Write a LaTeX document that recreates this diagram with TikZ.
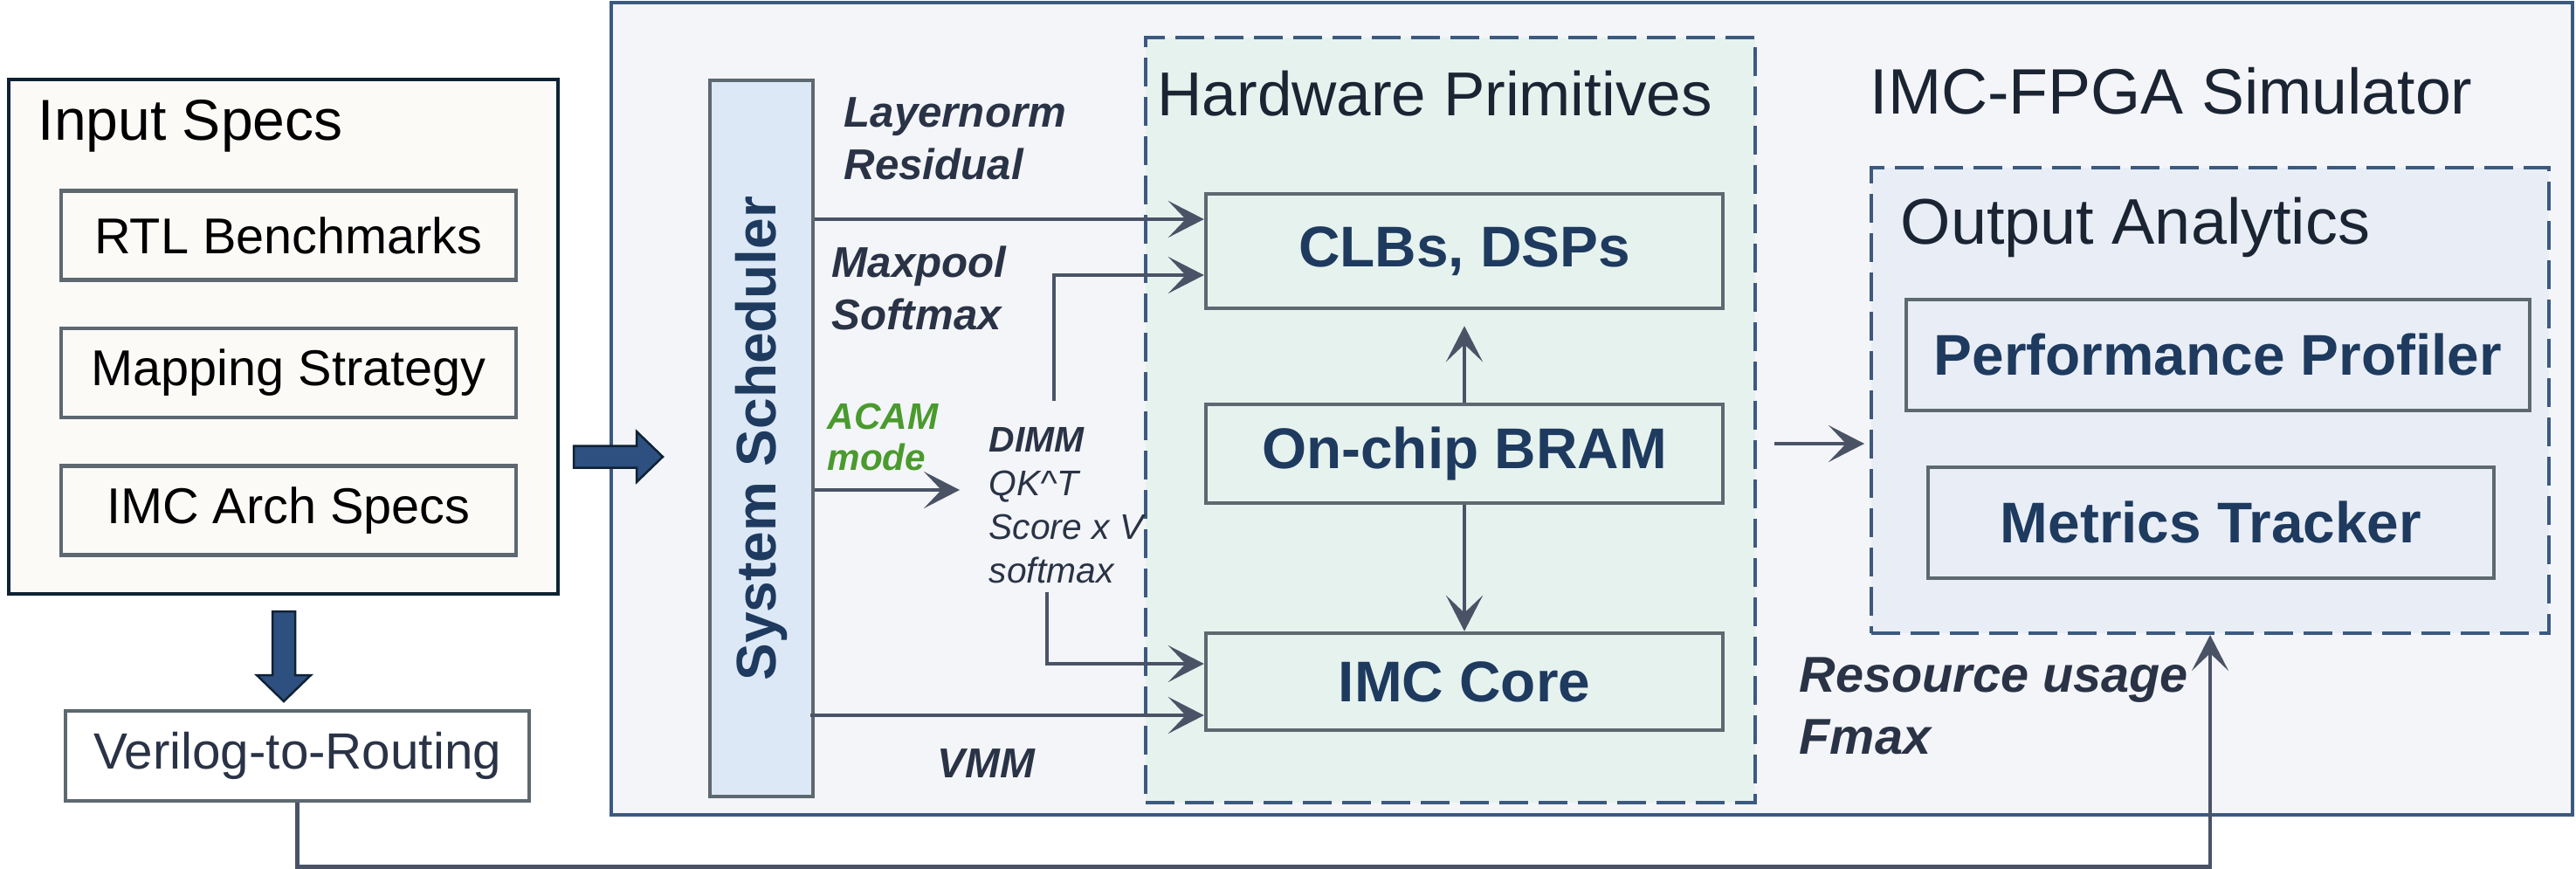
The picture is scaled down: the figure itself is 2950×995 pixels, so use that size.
\documentclass[tikz,border=0pt]{standalone}
\usepackage{fontspec}
\setmainfont{Liberation Sans}
\usetikzlibrary{arrows.meta, positioning, calc}
\definecolor{simfill}{HTML}{F3F5F8}
\definecolor{simborder}{HTML}{3C5A80}
\definecolor{primfill}{HTML}{E6F2EE}
\definecolor{outfill}{HTML}{E9EEF6}
\definecolor{schedfill}{HTML}{DCE8F5}
\definecolor{boxgray}{HTML}{5D6870}
\definecolor{labelblue}{HTML}{1E3A5F}
\definecolor{flowgray}{HTML}{4A5366}
\definecolor{annotdark}{HTML}{2A3346}
\definecolor{acamgreen}{HTML}{4A9A2E}
\definecolor{specfill}{HTML}{FBFAF7}
\definecolor{specborder}{HTML}{0F2235}
\definecolor{blockfill}{HTML}{2D5080}
\definecolor{titledark}{HTML}{1B2433}
\tikzset{
  specbox/.style={draw=boxgray, line width=0.45mm, fill=specfill,
    minimum width=52.1mm, minimum height=10.2mm, text=black,
    font=\fontsize{16.4pt}{19pt}\selectfont},
  primbox/.style={draw=boxgray, line width=0.45mm, fill=primfill,
    minimum width=59.2mm, text=labelblue,
    font=\bfseries\fontsize{18.7pt}{22pt}\selectfont},
  outbox/.style={draw=boxgray, line width=0.45mm, fill=outfill,
    minimum height=12.7mm, text=labelblue,
    font=\bfseries\fontsize{18.7pt}{22pt}\selectfont},
  dashframe/.style={draw=simborder, line width=0.4mm,
    dash pattern=on 3.3mm off 1.2mm},
  titletext/.style={anchor=base west, inner sep=0, text=titledark},
  flowlabel/.style={anchor=north west, inner sep=0, align=left, text=annotdark,
    font=\bfseries\itshape\fontsize{14pt}{17pt}\selectfont},
  flow/.style={->, draw=flowgray, line width=0.45mm},
  blockarrow/.style={draw=specborder, fill=blockfill, line width=0.25mm}
}

\begin{document}
\begin{tikzpicture}[x=0.1mm, y=-0.1mm,
    >={Stealth[length=4.1mm, width=4.2mm, inset=2mm]}, node distance=5.1mm]
  \useasboundingbox (0,0) rectangle (2950,995);

  % input side
  \node[draw=specborder, line width=0.45mm, fill=specfill,
    minimum width=62.9mm, minimum height=58.9mm] (inspecs) at (324.5,385.5) {};
  \node[titletext, text=black, font=\fontsize{18.8pt}{22pt}\selectfont]
    (inspecstitle) at (43,160) {Input Specs};
  \node[specbox] (rtl) at (330.5,269.5) {RTL Benchmarks};
  \node[specbox, below=of rtl] (mapstrat) {Mapping Strategy};
  \node[specbox, below=of mapstrat] (archspecs) {IMC Arch Specs};
  \node[draw=boxgray, line width=0.45mm, fill=white, minimum width=53.1mm,
    minimum height=10.3mm, text=annotdark,
    font=\fontsize{16.6pt}{19pt}\selectfont] (vtr) at (340.5,865.5) {Verilog-to-Routing};

  % simulator frame
  \node[draw=simborder, line width=0.35mm, fill=simfill,
    minimum width=224.6mm, minimum height=93mm] (sim) at (1823,468) {};
  \node[titletext, font=\fontsize{20.9pt}{24pt}\selectfont]
    (simtitle) at (2141,130) {IMC-FPGA Simulator};
  \node[draw=boxgray, line width=0.45mm, fill=schedfill,
    minimum width=11.8mm, minimum height=82mm] (sched) at (872,502) {};
  \node[rotate=90, text=labelblue, font=\bfseries\fontsize{18.2pt}{20pt}\selectfont]
    (schedtext) at (sched.center) {System Scheduler};

  % hardware primitives
  \node[dashframe, fill=primfill, minimum width=69.8mm, minimum height=87.6mm]
    (hwprim) at (1661,481) {};
  \node[titletext, font=\fontsize{20.2pt}{23pt}\selectfont]
    (hwtitle) at (1325,132) {Hardware Primitives};
  \node[primbox, minimum height=13.1mm] (clb) at (1677,287.5) {CLBs, DSPs};
  \node[primbox, minimum height=11.3mm] (bram) at (1677,519.5) {On-chip BRAM};
  \node[primbox, minimum height=11.1mm] (imccore) at (1677,780.5) {IMC Core};

  % output analytics
  \node[dashframe, fill=outfill, minimum width=77.6mm, minimum height=53.3mm]
    (outan) at (2531,458.5) {};
  \node[titletext, font=\fontsize{21pt}{24pt}\selectfont]
    (outtitle) at (2176,279) {Output Analytics};
  \node[outbox, minimum width=71.4mm] (perf) at (2540,406.5) {Performance Profiler};
  \node[outbox, minimum width=64.8mm] (metrics) at (2532,598.5) {Metrics Tracker};

  % block arrows
  \coordinate (rarr) at (657,523);
  \coordinate (darr) at (325,700);
  \draw[blockarrow] (rarr) ++(0,-12.5) -- ++(72,0) -- ++(0,-16.5) -- ++(30,29)
    -- ++(-30,29) -- ++(0,-16.5) -- ++(-72,0) -- cycle;
  \draw[blockarrow] (darr) ++(-13,0) -- ++(0,73) -- ++(-18,0) -- ++(31,30)
    -- ++(31,-30) -- ++(-18,0) -- ++(0,-73) -- cycle;

  % labels on the scheduler side
  \node[flowlabel] (lnres) at (966,111) {Layernorm\\Residual};
  \node[flowlabel] (mpsm) at (952,281) {Maxpool\\Softmax};
  \node[flowlabel, text=acamgreen, font=\bfseries\itshape\fontsize{12pt}{13.4pt}\selectfont]
    (acam) at (947,461) {ACAM\\mode};
  \node[flowlabel, font=\itshape\fontsize{11.6pt}{14.2pt}\selectfont]
    (dimm) at (1132,489) {\textbf{DIMM}\\QK\^{}T\\Score x V\\softmax};
  \node[flowlabel, font=\bfseries\itshape\fontsize{13.6pt}{16pt}\selectfont]
    (vmm) at (1073,857) {VMM};
  \node[flowlabel, font=\bfseries\itshape\fontsize{16.4pt}{20.2pt}\selectfont]
    (resusage) at (2060,752) {Resource usage\\Fmax};

  % connectors
  \coordinate (dimmup) at (1207,459);
  \coordinate (dimmdown) at (1199,678);
  \coordinate (acamtip) at (1099,561);
  \draw[flow] (sched.east |- 0,251) -- (clb.west |- 0,251);
  \draw[flow] (dimmup) |- (clb.west |- 0,315);
  \draw[flow] (sched.east |- 0,561) -- (acamtip);
  \draw[flow] (dimmdown) |- (imccore.west |- 0,760);
  \draw[flow] ([xshift=-0.5mm]sched.east |- 0,819) -- (imccore.west |- 0,819);
  \draw[flow, shorten >=1.8mm] (bram.north) -- (clb.south);
  \draw[flow] (bram.south) -- (imccore.north);
  \draw[flow, shorten <=2mm, shorten >=0.6mm] (hwprim.east |- 0,508) -- (outan.west |- 0,508);
  \draw[flow] (vtr.south) -- ++(0,73) -| (outan.south);
\end{tikzpicture}
\end{document}
